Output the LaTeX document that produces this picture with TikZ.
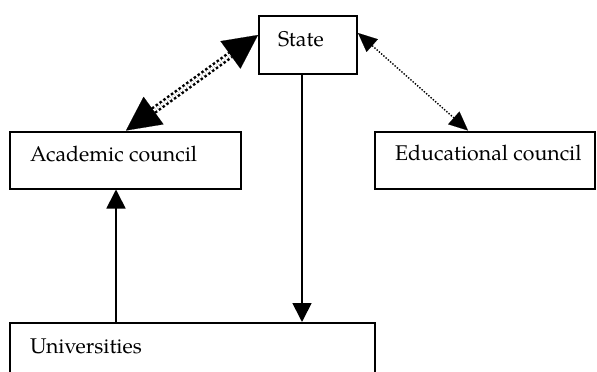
\documentclass[tikz,border=0pt]{standalone}
\usepackage{fontspec}
\setmainfont{TeX Gyre Pagella}
\usetikzlibrary{arrows.meta}

\tikzset{
  box/.style={draw, line width=2pt, inner sep=0pt, anchor=north west},
  lbl/.style={anchor=base west, inner sep=0pt, font=\fontsize{21.3}{25}\selectfont},
  solidarrow/.style={line width=1.7pt, -{Triangle[length=19pt,width=19pt]}},
  linkarrow/.style={line width=2.5pt, double, double distance=2.6pt,
    dash pattern=on 2.5pt off 2.2pt,
    {Triangle[length=34pt,width=34pt,line width=0.1pt]}-{Triangle[length=34pt,width=34pt,line width=0.1pt]}},
  dotarrow/.style={line width=1.4pt, dash pattern=on 1.4pt off 1.6pt,
    {Triangle[length=19pt,width=17pt,line width=0.1pt]}-{Triangle[length=19pt,width=17pt,line width=0.1pt]}}
}

\begin{document}
\begin{tikzpicture}[x=1pt,y=-1pt]
  \useasboundingbox (0,0) rectangle (597,372);

  % boxes
  \node[box, minimum width=98pt,    minimum height=58pt] (state) at (258,15)    {};
  \node[box, minimum width=231pt,   minimum height=57pt] (acad)  at (8.5,130.5) {};
  \node[box, minimum width=220pt,   minimum height=57pt] (edu)   at (374,130.5) {};
  \node[box, minimum width=365.5pt, minimum height=80pt] (univ)  at (8.5,322)   {};

  % captions
  \node[lbl] (stateT) at (278,46)  {State};
  \node[lbl] (acadT)  at (30,161)  {Academic council};
  \node[lbl] (eduT)   at (395,160) {Educational council};
  \node[lbl] (univT)  at (30,353)  {Universities};

  % attachment columns and rows
  \coordinate (colUA) at (116,0);
  \coordinate (colSU) at (302,0);
  \coordinate (colAS) at (126,0);
  \coordinate (rowAS) at (0,35);
  \coordinate (colSE) at (468,0);
  \coordinate (rowSE) at (0,33);

  % connectors
  \draw[solidarrow] (univ.north -| colUA) -- (acad.south -| colUA);
  \draw[solidarrow] (state.south -| colSU) -- (univ.north -| colSU);
  \draw[linkarrow] (acad.north -| colAS) -- (state.west |- rowAS);
  \draw[dotarrow] (state.east |- rowSE) -- (edu.north -| colSE);
\end{tikzpicture}
\end{document}
